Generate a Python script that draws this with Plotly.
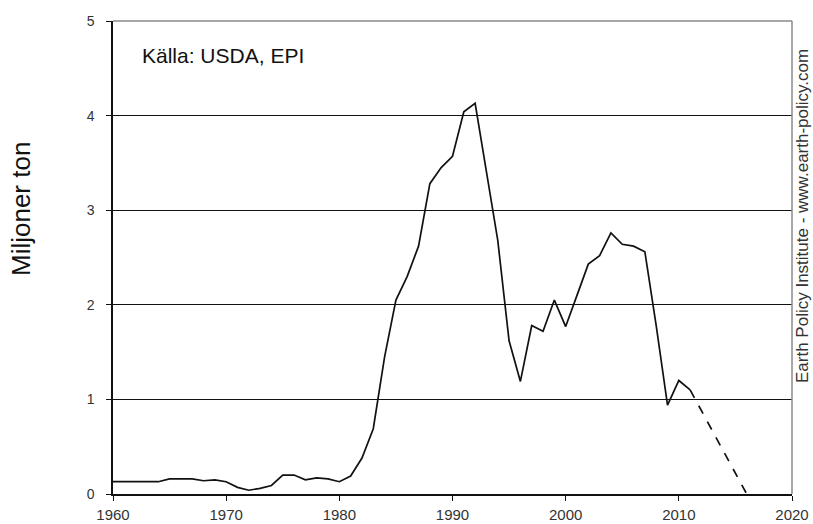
import plotly.graph_objects as go

years = list(range(1960, 2012))
values = [0.13, 0.13, 0.13, 0.13, 0.13, 0.16, 0.16, 0.16, 0.14, 0.15,
          0.13, 0.07, 0.04, 0.06, 0.09, 0.20, 0.20, 0.15, 0.17, 0.16,
          0.13, 0.19, 0.38, 0.69, 1.45, 2.05, 2.30, 2.62, 3.28, 3.45,
          3.57, 4.04, 4.13, 3.40, 2.68, 1.62, 1.19, 1.78, 1.72, 2.05,
          1.77, 2.10, 2.43, 2.52, 2.76, 2.64, 2.62, 2.56, 1.78, 0.94,
          1.20, 1.10]
proj_years = [2011, 2016]
proj_values = [1.10, 0.0]

x_ticks = [1960, 1970, 1980, 1990, 2000, 2010, 2020]
y_ticks = [0, 1, 2, 3, 4, 5]

FONT = "Liberation Sans, Arial, sans-serif"
L, R, T, B = 113, 21, 21, 30
PW, PH = 813 - L - R, 524 - T - B

fig = go.Figure()
fig.add_trace(go.Scatter(x=years, y=values, mode="lines",
                         line=dict(color="#111111", width=1.7),
                         showlegend=False, hoverinfo="skip"))
fig.add_trace(go.Scatter(x=proj_years, y=proj_values, mode="lines",
                         line=dict(color="#111111", width=1.7, dash="dash"),
                         showlegend=False, hoverinfo="skip"))

fig.update_layout(
    width=813, height=524,
    margin=dict(l=L, r=R, t=T, b=B, autoexpand=False),
    paper_bgcolor="white", plot_bgcolor="white",
    font=dict(family=FONT, color="#222222"),
    xaxis=dict(range=[1960, 2020], tickvals=x_ticks, showgrid=False,
               showline=True, linecolor="#111111", linewidth=1.5,
               ticks="outside", ticklen=5, tickcolor="#111111",
               tickfont=dict(size=15, color="#333333"), zeroline=False,
               automargin=False, ticklabelstandoff=1),
    yaxis=dict(range=[0, 5], tickvals=y_ticks, showgrid=True,
               gridcolor="#111111", gridwidth=1.3,
               showline=True, linecolor="#111111", linewidth=1.5,
               ticks="outside", ticklen=5, tickcolor="#111111",
               tickfont=dict(size=14, color="#333333"), zeroline=False,
               automargin=False, ticklabelstandoff=9),
    shapes=[
        dict(type="line", xref="paper", yref="paper", x0=0, x1=1, y0=1, y1=1,
             line=dict(color="#8a8a8a", width=1.5), layer="above"),
        dict(type="line", xref="paper", yref="paper", x0=1, x1=1, y0=0, y1=1,
             line=dict(color="#8a8a8a", width=1.5), layer="above"),
    ],
    annotations=[
        dict(text="Källa: USDA, EPI", xref="paper", yref="paper",
             x=(140 - L) / PW, y=1 - (55 - T) / PH, xanchor="left", yanchor="middle",
             showarrow=False, font=dict(size=21, color="#111111")),
        dict(text="Miljoner ton", xref="paper", yref="paper",
             x=(21 - L) / PW, y=1 - (209 - T) / PH, xanchor="center", yanchor="middle",
             textangle=-90, showarrow=False, font=dict(size=26, color="#111111")),
        dict(text="Earth Policy Institute - www.earth-policy.com", xref="paper", yref="paper",
             x=(802 - L) / PW, y=1 - (216 - T) / PH, xanchor="center", yanchor="middle",
             textangle=-90, showarrow=False, font=dict(size=17, color="#333333")),
    ],
)

fig.write_html("out.html", config={"displayModeBar": False},
               post_script="document.body.style.margin='0';document.body.style.overflow='hidden';")
